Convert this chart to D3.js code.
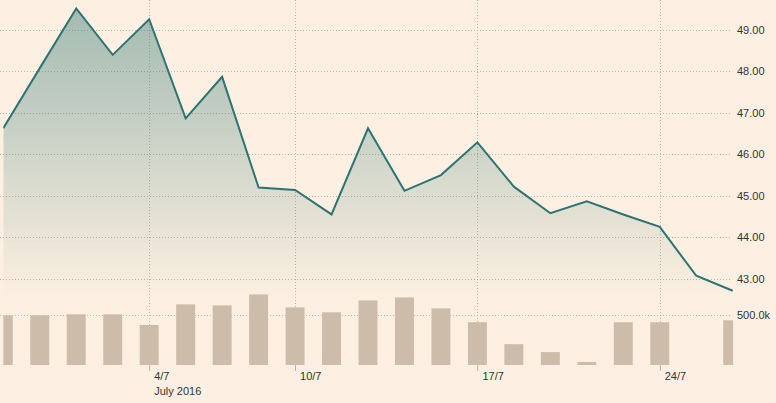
<!DOCTYPE html>
<html>
<head>
<meta charset="utf-8">
<script src="https://cdn.jsdelivr.net/npm/d3@7"></script>
<style>
  html, body { margin: 0; padding: 0; background: #fdf0e2; }
  svg { display: block; }
  text { font-family: "Liberation Sans", Arial, sans-serif; }
</style>
</head>
<body>
<svg id="chart" width="776" height="403"></svg>
<script>
// ---- data ----
const categories = ["28/6","29/6","30/6","1/7","4/7","5/7","6/7","7/7","8/7","11/7","12/7",
                    "13/7","14/7","15/7","18/7","19/7","20/7","21/7","22/7","25/7","26/7"];
const prices = [46.63, 48.08, 49.52, 48.40, 49.26, 46.87, 47.87, 45.20, 45.14, 44.55, 46.63,
                45.12, 45.50, 46.29, 45.22, 44.58, 44.87, 44.55, 44.25, 43.07, 42.71];
const volumes = [500000, 500000, 510000, 510000, 403000, 610000, 600000, 710000, 580000, 530000, 650000,
                 680000, 570000, 430000, 210000, 130000, 30000, 430000, 430000, 0, 450000];
const priceTicks = [43, 44, 45, 46, 47, 48, 49];
const volumeTicks = [500000];
const dateTickCats = ["4/7", "8/7", "15/7", "22/7"];
const dateTickLabels = ["4/7", "10/7", "17/7", "24/7"];
const periodLabel = "July 2016";

// ---- layout ----
const W = 776, H = 403;
const left = 3.3, right = 732.7;
const svg = d3.select("#chart");

const x = d3.scalePoint().domain(categories).range([left, right]).padding(0);
const y = d3.scaleLinear().domain([43, 49]).range([278.7, 30]);
const yv = d3.scaleLinear().domain([0, 500000]).range([365, 315.3]);
const step = x.step();
const barW = step * 0.52;

const defs = svg.append("defs");
const grad = defs.append("linearGradient").attr("id", "areaGrad")
  .attr("gradientUnits", "userSpaceOnUse").attr("x1", 0).attr("x2", 0).attr("y1", 0).attr("y2", 300);
grad.append("stop").attr("offset", 0).attr("stop-color", "#2f7672").attr("stop-opacity", 0.45);
grad.append("stop").attr("offset", 1).attr("stop-color", "#2f7672").attr("stop-opacity", 0);
defs.append("clipPath").attr("id", "plotClip").append("rect")
  .attr("x", left).attr("y", 0).attr("width", right - left + 0.5).attr("height", 366);

const gridColor = "#bfb5aa";

// horizontal price gridlines + labels
const gy = svg.append("g");
gy.selectAll("line").data(priceTicks).join("line")
  .attr("x1", 0).attr("x2", 732).attr("y1", d => Math.round(y(d)) + 0.5).attr("y2", d => Math.round(y(d)) + 0.5)
  .attr("stroke", gridColor).attr("stroke-dasharray", "1,2").attr("stroke-width", 1);
gy.selectAll("text").data(priceTicks).join("text")
  .attr("x", 737).attr("y", d => y(d)).attr("dy", "0.35em")
  .attr("font-size", 11).attr("fill", "#333").text(d => d3.format(".2f")(d));

// volume gridline + label
const gv = svg.append("g");
gv.selectAll("line").data(volumeTicks).join("line")
  .attr("x1", 0).attr("x2", 732).attr("y1", d => Math.round(yv(d)) + 0.5).attr("y2", d => Math.round(yv(d)) + 0.5)
  .attr("stroke", gridColor).attr("stroke-dasharray", "1,2");
gv.selectAll("text").data(volumeTicks).join("text")
  .attr("x", 737).attr("y", d => yv(d)).attr("dy", "0.35em")
  .attr("font-size", 11).attr("fill", "#333").text(d => d3.format(".1f")(d / 1000) + "k");

// vertical gridlines
const gx = svg.append("g");
gx.selectAll("line.grid").data(dateTickCats).join("line").attr("class", "grid")
  .attr("x1", d => Math.round(x(d)) + 0.5).attr("x2", d => Math.round(x(d)) + 0.5)
  .attr("y1", 0).attr("y2", 365)
  .attr("stroke", gridColor).attr("stroke-dasharray", "1,2");

// area + line
const plot = svg.append("g").attr("clip-path", "url(#plotClip)");
const area = d3.area().x((d, i) => x(categories[i])).y0(300).y1(d => y(d));
plot.append("path").datum(prices).attr("d", area).attr("fill", "url(#areaGrad)");

// bars
plot.selectAll("rect.bar").data(volumes).join("rect").attr("class", "bar")
  .attr("x", (d, i) => x(categories[i]) - barW / 2).attr("width", barW)
  .attr("y", d => yv(d)).attr("height", d => yv(0) - yv(d))
  .attr("fill", "#cdbcaa");

const line = d3.line().x((d, i) => x(categories[i])).y(d => y(d));
plot.append("path").datum(prices).attr("d", line)
  .attr("fill", "none").attr("stroke", "#2c7472").attr("stroke-width", 2)
  .attr("stroke-linejoin", "miter");

// x axis ticks & labels
gx.selectAll("line.tick").data(dateTickCats).join("line").attr("class", "tick")
  .attr("x1", d => Math.round(x(d)) + 0.5).attr("x2", d => Math.round(x(d)) + 0.5)
  .attr("y1", 365).attr("y2", 371).attr("stroke", "#bfb5aa");
gx.selectAll("text").data(dateTickCats).join("text")
  .attr("x", d => x(d) + 5).attr("y", 380)
  .attr("font-size", 11).attr("fill", "#333")
  .text((d, i) => dateTickLabels[i]);
svg.append("text").attr("x", x(dateTickCats[0]) + 5).attr("y", 395)
  .attr("font-size", 11).attr("fill", "#333").text(periodLabel);
</script>
</body>
</html>
